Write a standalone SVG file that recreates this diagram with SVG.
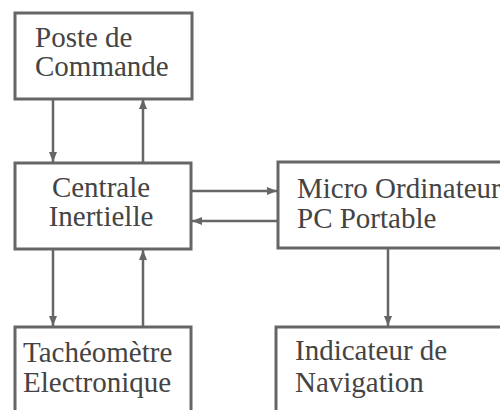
<svg xmlns="http://www.w3.org/2000/svg" width="500" height="410" viewBox="0 0 500 410">
<defs>
<style>
.box{fill:#fff;stroke:#666;stroke-width:3}
text{font-family:'Liberation Serif','Times New Roman',serif;font-size:29px;fill:#444}
.c{stroke:#666;stroke-width:2.5;fill:none;marker-end:url(#ah)}
</style>
<marker id="ah" viewBox="0 0 10 8" refX="10" refY="4" markerWidth="10" markerHeight="8" markerUnits="userSpaceOnUse" orient="auto">
<path d="M0,0 L10,4 L0,8 Z" fill="#666"/>
</marker>
</defs>
<rect width="500" height="410" fill="#fff"/>
<g id="connectors">
<line class="c" x1="53" y1="99" x2="53" y2="162"/>
<line class="c" x1="143" y1="163" x2="143" y2="99"/>
<line class="c" x1="53" y1="249" x2="53" y2="326"/>
<line class="c" x1="143" y1="327" x2="143" y2="250"/>
<line class="c" x1="191" y1="191" x2="277" y2="191"/>
<line class="c" x1="278" y1="221" x2="192" y2="221"/>
<line class="c" x1="388" y1="248" x2="388" y2="326"/>
</g>
<g id="poste">
<rect class="box" x="15" y="13" width="177" height="86"/>
<text x="35" y="47">Poste de</text>
<text x="35" y="76">Commande</text>
</g>
<g id="centrale">
<rect class="box" x="15" y="163" width="176" height="86"/>
<text x="101" y="197" text-anchor="middle">Centrale</text>
<text x="101" y="226" text-anchor="middle">Inertielle</text>
</g>
<g id="micro">
<rect class="box" x="278" y="162" width="240" height="86"/>
<text x="297" y="198">Micro Ordinateur</text>
<text x="297" y="228">PC Portable</text>
</g>
<g id="tacheometre">
<rect class="box" x="15" y="327" width="176" height="100"/>
<text x="23" y="362">Tachéomètre</text>
<text x="23" y="392">Electronique</text>
</g>
<g id="indicateur">
<rect class="box" x="276" y="327" width="240" height="100"/>
<text x="295" y="360">Indicateur de</text>
<text x="295" y="392">Navigation</text>
</g>
</svg>
